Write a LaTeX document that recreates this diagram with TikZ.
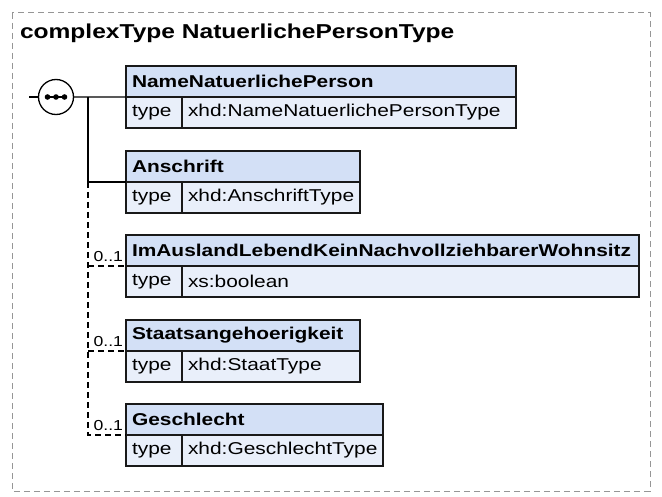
\documentclass[tikz,border=0pt]{standalone}
\usepackage{fontspec}
\setmainfont{Liberation Sans}
\setsansfont{Liberation Sans}
\newfontfamily\diafont[FakeStretch=1.22]{Liberation Sans}
\begin{document}
\definecolor{hdrfill}{RGB}{211,224,246}
\definecolor{rowfill}{RGB}{233,239,250}
\definecolor{frame}{RGB}{150,150,150}
\begin{tikzpicture}[x=1bp,y=-1bp,
  every node/.style={font=\diafont, outer sep=0pt},
  hdr/.style={draw=black!90, line width=1.4bp, fill=hdrfill, anchor=north west,
    inner xsep=6bp, inner ysep=0pt, minimum height=31bp, align=left,
    font=\diafont\bfseries\fontsize{17.2}{19}\selectfont},
  cellkey/.style={draw=black!90, line width=1.4bp, fill=rowfill, anchor=north west,
    inner xsep=6bp, inner ysep=0pt, minimum height=31bp, minimum width=56bp,
    text width=44bp, align=left, font=\diafont\fontsize{17.2}{19}\selectfont},
  cellval/.style={draw=black!90, line width=1.4bp, fill=rowfill, anchor=north west,
    inner xsep=6bp, inner ysep=0pt, minimum height=31bp, align=left,
    font=\diafont\fontsize{17.2}{19}\selectfont},
  conn/.style={line width=1.3bp, black},
  optconn/.style={line width=1.3bp, black, dash pattern=on 6bp off 4bp},
  card/.style={font=\diafont\fontsize{14.5}{16}\selectfont, anchor=south east,
    inner sep=0pt}
]
\useasboundingbox (0,0) rectangle (662,497);

% outer frame of the complex type
\draw[frame, line width=1bp, dash pattern=on 6bp off 4bp] (12,13) rectangle (650,491);
\node[anchor=base west, inner sep=0pt, font=\diafont\bfseries\fontsize{20.2}{23}\selectfont]
  (title) at (20,39) {complexType NatuerlichePersonType};

% element boxes: header, type key, type value
\node[hdr, minimum width=390bp, text width=378bp] (hd1) at (126,66) {\mbox{NameNatuerlichePerson}};
\node[cellkey] (tk1) at (hd1.south west) {\mbox{type}};
\node[cellval, minimum width=334bp, text width=322bp] (tv1) at (tk1.north east) {\mbox{xhd:NameNatuerlichePersonType}};

\node[hdr, minimum width=234bp, text width=222bp] (hd2) at (126,151) {\mbox{Anschrift}};
\node[cellkey] (tk2) at (hd2.south west) {\mbox{type}};
\node[cellval, minimum width=178bp, text width=166bp] (tv2) at (tk2.north east) {\mbox{xhd:AnschriftType}};

\node[hdr, minimum width=513bp, text width=501bp] (hd3) at (126,235) {\mbox{ImAuslandLebendKeinNachvollziehbarerWohnsitz}};
\node[cellkey] (tk3) at (hd3.south west) {\mbox{type}};
\node[cellval, minimum width=457bp, text width=445bp] (tv3) at (tk3.north east) {\mbox{xs:boolean}};

\node[hdr, minimum width=234bp, text width=222bp] (hd4) at (126,320) {\mbox{Staatsangehoerigkeit}};
\node[cellkey] (tk4) at (hd4.south west) {\mbox{type}};
\node[cellval, minimum width=178bp, text width=166bp] (tv4) at (tk4.north east) {\mbox{xhd:StaatType}};

\node[hdr, minimum width=257bp, text width=245bp] (hd5) at (126,404) {\mbox{Geschlecht}};
\node[cellkey] (tk5) at (hd5.south west) {\mbox{type}};
\node[cellval, minimum width=201bp, text width=189bp] (tv5) at (tk5.north east) {\mbox{xhd:GeschlechtType}};

% sequence compositor
\node[draw, circle, line width=1.3bp, minimum size=35bp, inner sep=0pt, fill=white]
  (seq) at (56,97) {};
\draw[line width=1.3bp] (47.5,97) -- (64.5,97);
\foreach \dx in {-8.5,0,8.5} \fill (56+\dx,97) circle (2.8bp);

% connectors
\coordinate (in) at (29,97);
\coordinate (fork) at (88,97);
\coordinate (split) at (88,182);
\draw[conn] (in) -- (seq.west);
\draw[conn] (seq.east) -- (hd1.south west);
\draw[conn] (fork) |- (hd2.south west);
\draw[optconn] (split) |- (hd5.south west);
\draw[optconn] (split |- hd3.south west) -- (hd3.south west);
\draw[optconn] (split |- hd4.south west) -- (hd4.south west);

% cardinalities
\node[card] (c3) at ([xshift=-3bp,yshift=4bp]hd3.south west) {0..1};
\node[card] (c4) at ([xshift=-3bp,yshift=4bp]hd4.south west) {0..1};
\node[card] (c5) at ([xshift=-3bp,yshift=4bp]hd5.south west) {0..1};
\end{tikzpicture}
\end{document}
